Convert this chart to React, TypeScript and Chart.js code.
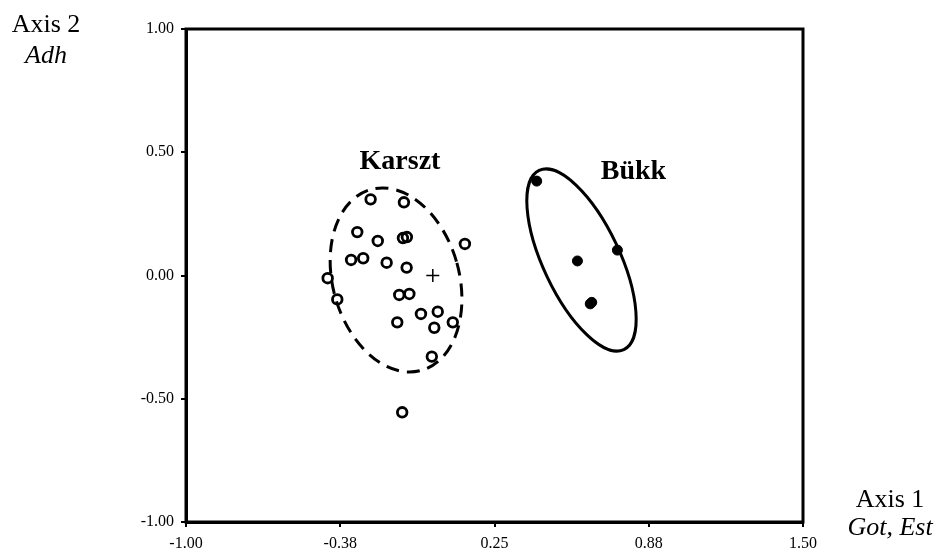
import React, { useEffect, useRef } from "react";
import { Chart, registerables } from "chart.js";

Chart.register(...registerables);

// ---- Data ----
const karsztX = [-0.252, -0.117, -0.306, -0.223, -0.121, -0.105, 0.130, -0.331, -0.282, -0.187, -0.106, -0.426, -0.387, -0.136, -0.095, -0.048, 0.020, 0.006, -0.144, 0.081, -0.004, -0.124];
const karsztY = [0.309, 0.297, 0.176, 0.140, 0.152, 0.156, 0.128, 0.063, 0.070, 0.052, 0.032, -0.011, -0.097, -0.079, -0.075, -0.156, -0.147, -0.212, -0.190, -0.190, -0.329, -0.555];
const bukkX = [0.421, 0.748, 0.586, 0.644, 0.638];
const bukkY = [0.383, 0.103, 0.059, -0.109, -0.115];
const centroidX = [0.0];
const centroidY = [0.0];

// ellipse: center x, center y, semi-axis along x, semi-axis along y, tilt (deg)
const groupNames = ["Karszt", "Bükk"];
const ellipseCX = [-0.149, 0.6025];
const ellipseCY = [-0.018, 0.063];
const ellipseRX = [0.256, 0.155];
const ellipseRY = [0.381, 0.402];
const ellipseTilt = [-15.6, -25.3];
const ellipseDashed = [true, false];
const groupLabelX = [-0.133, 0.813];
const groupLabelY = [0.432, 0.391];

const xTickValues = [-1.0, -0.375, 0.25, 0.875, 1.5];
const xTickLabels = ["-1.00", "-0.38", "0.25", "0.88", "1.50"];
const yTickValues = [-1.0, -0.5, 0.0, 0.5, 1.0];
const yTickLabels = ["-1.00", "-0.50", "0.00", "0.50", "1.00"];

const xAxisTitle = ["Axis 1", "Got, Est"];
const yAxisTitle = ["Axis 2", "Adh"];

const SERIF = "'Times New Roman', 'Liberation Serif', serif";

const ellipsePlugin = {
  id: "ellipses",
  beforeDatasetsDraw(chart: any) {
    const { ctx, scales } = chart;
    const xs = scales.x, ys = scales.y;
    ctx.save();
    for (let i = 0; i < ellipseCX.length; i++) {
      const px = xs.getPixelForValue(ellipseCX[i]);
      const py = ys.getPixelForValue(ellipseCY[i]);
      const rx = Math.abs(xs.getPixelForValue(ellipseCX[i] + ellipseRX[i]) - px);
      const ry = Math.abs(ys.getPixelForValue(ellipseCY[i] + ellipseRY[i]) - py);
      ctx.beginPath();
      ctx.ellipse(px, py, rx, ry, (ellipseTilt[i] * Math.PI) / 180, 0, Math.PI * 2);
      ctx.lineWidth = 3;
      ctx.strokeStyle = "#000";
      ctx.setLineDash(ellipseDashed[i] ? [13, 8] : []);
      ctx.stroke();
    }
    ctx.restore();
  },
  afterDraw(chart: any) {
    const { ctx, chartArea, scales } = chart;
    ctx.save();
    // frame
    ctx.lineWidth = 3;
    ctx.strokeStyle = "#000";
    ctx.setLineDash([]);
    ctx.strokeRect(chartArea.left, chartArea.top, chartArea.right - chartArea.left, chartArea.bottom - chartArea.top);
    // group labels
    ctx.fillStyle = "#000";
    ctx.textAlign = "center";
    ctx.textBaseline = "alphabetic";
    ctx.font = `bold 28px ${SERIF}`;
    for (let i = 0; i < groupNames.length; i++) {
      ctx.fillText(groupNames[i], scales.x.getPixelForValue(groupLabelX[i]), scales.y.getPixelForValue(groupLabelY[i]));
    }
    // axis titles
    const yTx = chartArea.left - 140;
    ctx.font = `26px ${SERIF}`;
    ctx.fillText(yAxisTitle[0], yTx, chartArea.top + 3);
    ctx.font = `italic 26px ${SERIF}`;
    ctx.fillText(yAxisTitle[1], yTx, chartArea.top + 34);
    const xTx = chartArea.right + 87;
    ctx.font = `26px ${SERIF}`;
    ctx.fillText(xAxisTitle[0], xTx, chartArea.bottom - 15);
    ctx.font = `italic 26px ${SERIF}`;
    ctx.fillText(xAxisTitle[1], xTx, chartArea.bottom + 13);
    ctx.restore();
  },
};

export default function App() {
  const ref = useRef<HTMLCanvasElement | null>(null);
  useEffect(() => {
    if (!ref.current) return;
    const chart = new Chart(ref.current, {
      type: "scatter",
      data: {
        datasets: [
          {
            label: "Karszt",
            data: karsztX.map((x, i) => ({ x, y: karsztY[i] })),
            pointStyle: "circle",
            pointRadius: 4.8,
            pointBorderWidth: 2.8,
            pointBackgroundColor: "rgba(0,0,0,0)",
            pointBorderColor: "#000",
          },
          {
            label: "Bükk",
            data: bukkX.map((x, i) => ({ x, y: bukkY[i] })),
            pointStyle: "circle",
            pointRadius: 5,
            pointBorderWidth: 1,
            pointBackgroundColor: "#000",
            pointBorderColor: "#000",
          },
          {
            label: "centroid",
            data: centroidX.map((x, i) => ({ x, y: centroidY[i] })),
            pointStyle: "cross",
            pointRadius: 6.5,
            pointBorderWidth: 1.5,
            pointBorderColor: "#000",
          },
        ],
      },
      options: {
        animation: false,
        responsive: true,
        maintainAspectRatio: false,
        layout: { padding: { top: 29, right: 134, left: 0, bottom: 0 } },
        plugins: { legend: { display: false }, tooltip: { enabled: false }, title: { display: false } },
        scales: {
          x: {
            type: "linear",
            min: -1,
            max: 1.5,
            afterBuildTicks: (s: any) => {
              s.ticks = xTickValues.map((v) => ({ value: v }));
            },
            afterFit: (s: any) => {
              s.height = 28;
            },
            ticks: {
              autoSkip: false,
              maxRotation: 0,
              padding: 7,
              color: "#000",
              font: { family: SERIF, size: 16 },
              callback: (_v: any, i: number) => xTickLabels[i],
            },
            grid: { display: true, drawOnChartArea: false, drawTicks: true, tickLength: 5, color: "#000", lineWidth: 2 },
            border: { display: true, color: "#000", width: 3 },
          },
          y: {
            type: "linear",
            min: -1,
            max: 1,
            afterBuildTicks: (s: any) => {
              s.ticks = yTickValues.map((v) => ({ value: v }));
            },
            afterFit: (s: any) => {
              s.width = 186;
            },
            ticks: {
              autoSkip: false,
              padding: 7,
              color: "#000",
              font: { family: SERIF, size: 16 },
              callback: (_v: any, i: number) => yTickLabels[i],
            },
            grid: { display: true, drawOnChartArea: false, drawTicks: true, tickLength: 5, color: "#000", lineWidth: 2 },
            border: { display: true, color: "#000", width: 3 },
          },
        },
      },
      plugins: [ellipsePlugin],
    });
    return () => chart.destroy();
  }, []);
  return (
    <div style={{ position: "fixed", left: 0, top: 0, width: 937, height: 550, background: "#fff" }}>
      <canvas ref={ref} />
    </div>
  );
}
